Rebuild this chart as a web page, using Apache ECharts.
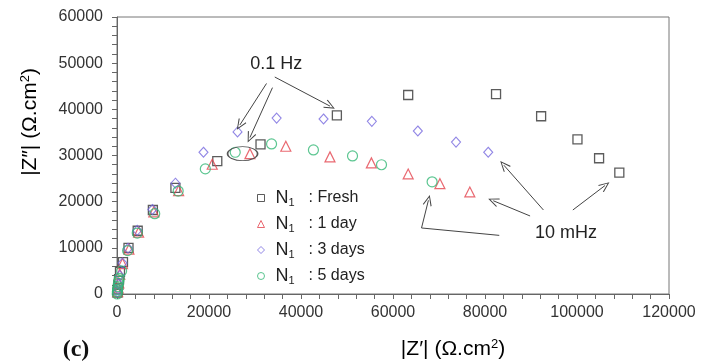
<!DOCTYPE html>
<html>
<head>
<meta charset="utf-8">
<script src="https://cdn.jsdelivr.net/npm/echarts@6/dist/echarts.min.js"></script>
<style>
  html, body { margin: 0; padding: 0; background: #fff; }
  #chart { width: 702px; height: 362px; }
</style>
</head>
<body>
<div id="chart"></div>
<script>
// |Z'| and |Z''| (ohm.cm2)
const freshZr = [100, 200, 300, 450, 650, 1300, 2500, 4500, 7800, 12700, 21800, 31200, 47800, 63300, 82400, 92200, 100100, 104800, 109200];
const freshZi = [300, 1000, 2000, 3200, 4800, 6900, 10000, 13700, 18200, 23000, 28800, 32400, 38700, 43100, 43300, 38500, 33500, 29400, 26300];

const day1Zr = [150, 250, 400, 600, 1200, 2600, 4700, 8000, 13400, 20700, 28900, 36700, 46300, 55300, 63300, 70200, 76700];
const day1Zi = [500, 1300, 2400, 4300, 6600, 9700, 13400, 17800, 22400, 28100, 30400, 32000, 29700, 28400, 26000, 23900, 22100];

const day3Zr = [100, 200, 350, 600, 1200, 2400, 4400, 7700, 12700, 18800, 26200, 34700, 44900, 55400, 65400, 73700, 80700];
const day3Zi = [400, 1100, 2200, 4000, 6700, 9900, 13800, 18300, 24000, 30700, 35100, 38100, 37900, 37400, 35300, 32900, 30700];

const day5Zr = [50, 80, 120, 200, 300, 400, 500, 1000, 2300, 4400, 8200, 13300, 19200, 25700, 33600, 42700, 51200, 57500, 68500];
const day5Zi = [0, 500, 1000, 1600, 2300, 2800, 3400, 5000, 9400, 13200, 17400, 22300, 27100, 30700, 32500, 31200, 29900, 28000, 24300];

const seriesNames = ['Fresh', '1 day', '3 days', '5 days'];
const seriesSymbols = ['rect', 'triangle', 'diamond', 'circle'];
const seriesColors = ['#333', '#e4444e', '#7668de', '#33b875'];
const xTicks = [0, 20000, 40000, 60000, 80000, 100000, 120000];
const yTicks = [0, 10000, 20000, 30000, 40000, 50000, 60000];

const pairs = (xs, ys) => xs.map((x, i) => [x, ys[i]]);

const FONT = '"Liberation Sans", Arial, sans-serif';
const arrowHead = 'path://M0,0 L5,10 L4,10.6 L0,2.2 L-4,10.6 L-5,10 Z';

function arrow(from, to) {
  return [
    { coord: from, symbol: 'none' },
    { coord: to, symbol: arrowHead, symbolSize: [9, 11] }
  ];
}
function segment(from, to) {
  return [
    { coord: from, symbol: 'none' },
    { coord: to, symbol: 'none' }
  ];
}

const chart = echarts.init(document.getElementById('chart'));

const tickStyle = { color: '#666', width: 1 };
const axisBase = {
  type: 'value',
  axisLine: { show: true, lineStyle: { color: '#666', width: 1 } },
  splitLine: { show: false },
};
// second copy of each axis only draws the inner half of the ticks
const innerTicks = {
  ...axisBase,
  axisLine: { show: false },
  axisTick: { show: true, inside: true, length: 5, lineStyle: tickStyle },
  minorTick: { show: true, splitNumber: 5, length: 5, lineStyle: tickStyle },
  axisLabel: { show: false }
};

const axisNameRich = {
  a: { fontSize: 21, fontFamily: FONT, color: '#222' },
  s: { fontSize: 13, fontFamily: FONT, color: '#222', padding: [0, 0, 10, 0] }
};

chart.setOption({
  animation: false,
  backgroundColor: '#fff',
  textStyle: { fontFamily: FONT },
  grid: {
    left: 117, right: 33, top: 17, bottom: 68,
    show: true, borderColor: '#777', borderWidth: 1
  },
  xAxis: [
    {
      ...axisBase,
      min: 0, max: 120000, interval: 20000,
      axisTick: { show: true, length: 5, lineStyle: tickStyle },
      minorTick: { show: false },
      axisLabel: { fontSize: 16, color: '#333', margin: 11, fontFamily: FONT,
        formatter: v => xTicks.includes(v) ? String(v) : '' }
    },
    { ...innerTicks, min: 0, max: 120000, interval: 20000 }
  ],
  yAxis: [
    {
      ...axisBase,
      min: 0, max: 60000, interval: 10000,
      axisTick: { show: true, length: 5, lineStyle: tickStyle },
      minorTick: { show: false },
      axisLabel: { fontSize: 16, color: '#333', margin: 14, fontFamily: FONT,
        formatter: v => yTicks.includes(v) ? String(v) : '' }
    },
    { ...innerTicks, min: 0, max: 60000, interval: 10000 }
  ],
  legend: {
    data: seriesNames.map((name, i) => ({
      name, icon: seriesSymbols[i],
      itemStyle: { color: '#fff', borderColor: seriesColors[i], borderWidth: 1 }
    })),
    orient: 'vertical',
    left: 252, top: 183,
    itemGap: 6,
    itemWidth: 7, itemHeight: 7,
    formatter: name => '{n|N}{s|1}{t|: ' + name + '}',
    textStyle: {
      color: '#222', fontFamily: FONT,
      rich: {
        n: { fontSize: 18, lineHeight: 20, fontFamily: FONT, color: '#222', padding: [0, 0, 0, 6] },
        s: { fontSize: 11, lineHeight: 11, fontFamily: FONT, color: '#222', padding: [9, 0, 0, 0] },
        t: { fontSize: 16, lineHeight: 20, fontFamily: FONT, color: '#222', padding: [0, 0, 0, 14] }
      }
    }
  },
  series: [
    {
      name: 'Fresh', type: 'scatter', data: pairs(freshZr, freshZi),
      symbol: 'rect', symbolSize: 9,
      itemStyle: { color: '#fff', borderColor: seriesColors[0], borderWidth: 1.3 }
    },
    {
      name: '1 day', type: 'scatter', data: pairs(day1Zr, day1Zi),
      symbol: 'triangle', symbolSize: 10,
      itemStyle: { color: 'rgba(255,255,255,0)', borderColor: seriesColors[1], borderWidth: 1.2 }
    },
    {
      name: '3 days', type: 'scatter', data: pairs(day3Zr, day3Zi),
      symbol: 'diamond', symbolSize: [9, 10],
      itemStyle: { color: 'rgba(255,255,255,0)', borderColor: seriesColors[2], borderWidth: 1.1 }
    },
    {
      name: '5 days', type: 'scatter', data: pairs(day5Zr, day5Zi),
      symbol: 'circle', symbolSize: 10,
      itemStyle: { color: 'rgba(255,255,255,0)', borderColor: seriesColors[3], borderWidth: 1.2 }
    },
    {
      name: 'notes', type: 'scatter', data: [], silent: true,
      markLine: {
        silent: true, animation: false,
        label: { show: false },
        lineStyle: { color: '#444', width: 1, type: 'solid' },
        data: [
          arrow([34300, 47000], [46300, 40700]),
          arrow([32500, 45600], [26700, 36600]),
          arrow([33800, 44700], [28900, 33900]),
          arrow([92700, 18200], [84100, 27900]),
          arrow([89800, 16900], [81800, 20200]),
          arrow([99100, 18200], [106100, 23500]),
          segment([83100, 12700], [66200, 14300]),
          arrow([66200, 14300], [67700, 20300])
        ]
      },
      markPoint: {
        silent: true, animation: false,
        data: [
          { coord: [34600, 49800], symbol: 'circle', symbolSize: 1,
            itemStyle: { color: 'rgba(0,0,0,0)' },
            label: { show: true, position: 'inside', formatter: '0.1 Hz',
              fontSize: 18, color: '#222', fontFamily: FONT } },
          { coord: [97600, 13200], symbol: 'circle', symbolSize: 1,
            itemStyle: { color: 'rgba(0,0,0,0)' },
            label: { show: true, position: 'inside', formatter: '10 mHz',
              fontSize: 18, color: '#222', fontFamily: FONT } },
          { coord: [27300, 30400], symbol: 'circle', symbolSize: [30, 14],
            itemStyle: { color: 'rgba(0,0,0,0)', borderColor: '#555', borderWidth: 1.2 },
            label: { show: false } }
        ]
      }
    }
  ],
  graphic: [
    {
      type: 'text', x: 453, y: 349,
      style: { text: '{a||Z\u2032| (\u03A9.cm}{s|2}{a|)}', rich: axisNameRich,
        align: 'center', verticalAlign: 'middle' }
    },
    {
      type: 'text', x: 30, y: 122, rotation: Math.PI / 2,
      style: { text: '{a||Z\u2033| (\u03A9.cm}{s|2}{a|)}', rich: axisNameRich,
        align: 'center', verticalAlign: 'middle' }
    },
    {
      type: 'text', x: 76, y: 350,
      style: { text: '(c)', font: 'bold 24px "Liberation Serif", "Times New Roman", serif',
        fill: '#111', align: 'center', verticalAlign: 'middle' }
    }
  ]
});
</script>
</body>
</html>
